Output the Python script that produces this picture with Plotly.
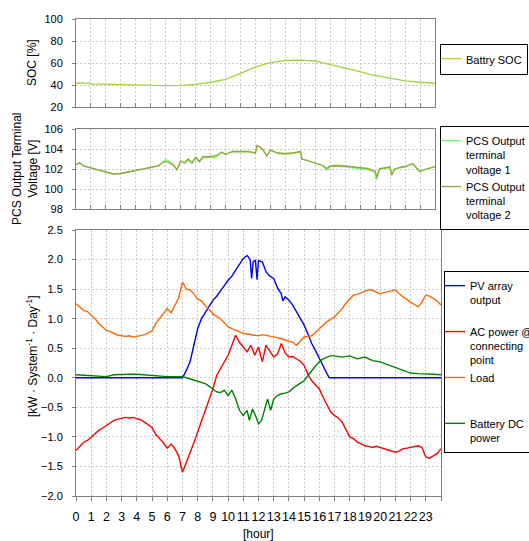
import plotly.graph_objects as go

# ---------------- data ----------------
hour_ticks = [str(h) for h in range(24)]

soc_t = [0, 0.9, 1, 2, 3, 4, 5, 6, 7, 8, 9, 10, 11, 12, 13, 14, 15, 16, 17, 18, 19, 19.9, 20, 20.1, 21, 22, 23, 24]
soc = [41.8, 41.7, 41.0, 40.7, 40.4, 39.9, 39.8, 39.4, 39.7, 40.6, 42.5, 45.2, 50.5, 56.5, 60.3, 62.3, 62.6, 61.8,
       58.5, 55.3, 52.2, 48.6, 49.3, 48.5, 45.9, 43.7, 42.5, 41.6]

volt_t = [0, 0.25, 0.5, 0.75, 1, 1.5, 2, 2.5, 3, 3.5, 4, 4.25, 4.5, 5, 5.5, 5.75, 6, 6.25, 6.5, 6.75, 7, 7.25,
          7.5, 7.75, 8, 8.25, 8.5, 8.75, 9, 9.25, 9.5, 9.75, 10, 10.25, 10.5, 11, 11.5, 12, 12.1, 12.3, 12.5,
          12.75, 13, 13.5, 14, 14.5, 15, 15.1, 15.5, 16, 16.5, 16.75, 17, 17.5, 18, 18.5, 19, 19.5, 20, 20.1,
          20.3, 20.75, 21, 21.1, 21.3, 21.75, 22, 22.5, 22.75, 23, 23.3, 23.6, 24]
volt1 = [102.45, 102.65, 102.3, 102.2, 102.15, 101.95, 101.7, 101.5, 101.55, 101.7, 101.85, 101.95, 102.0, 102.1,
         102.3, 102.65, 102.95, 102.7, 102.45, 101.95, 102.8, 102.55, 102.9, 102.55, 103.1, 102.7, 103.15,
         103.15, 103.2, 103.1, 103.4, 103.65, 103.45, 103.6, 103.75, 103.7, 103.75, 103.6, 104.3, 104.2, 103.9,
         103.3, 103.85, 103.55, 103.5, 103.6, 103.7, 103.0, 102.85, 102.55, 102.3, 101.9, 102.25, 102.3, 102.2,
         102.15, 102.0, 101.95, 101.65, 100.9, 101.95, 102.05, 102.15, 101.35, 101.95, 102.15, 102.2, 102.5,
         102.15, 101.7, 101.9, 102.05, 102.25]
volt2 = [102.4, 102.6, 102.3, 102.2, 102.15, 101.95, 101.7, 101.5, 101.55, 101.7, 101.85, 101.95, 102.0, 102.1,
         102.3, 102.6, 102.75, 102.6, 102.4, 101.9, 102.8, 102.6, 103.0, 102.65, 103.2, 102.75, 103.25, 103.2,
         103.25, 103.3, 103.45, 103.7, 103.45, 103.65, 103.75, 103.75, 103.75, 103.6, 104.35, 104.2, 103.95,
         103.3, 103.9, 103.6, 103.55, 103.6, 103.75, 103.0, 102.85, 102.6, 102.35, 102.05, 102.3, 102.35, 102.3,
         102.2, 102.1, 102.05, 101.75, 101.2, 102.05, 102.1, 102.2, 101.45, 102.0, 102.2, 102.25, 102.55, 102.2,
         101.75, 101.95, 102.1, 102.25]

pv_t = [0, 7.0, 7.25, 7.5, 7.75, 8, 8.25, 8.5, 8.75, 9, 9.25, 9.5, 9.75, 10, 10.25, 10.5, 10.75, 11, 11.25,
        11.45, 11.55, 11.65, 11.8, 11.9, 12.0, 12.25, 12.5, 12.75, 13, 13.25, 13.5, 13.6, 13.75, 14, 14.25,
        14.5, 14.75, 15, 15.25, 15.5, 15.75, 16, 16.25, 16.5, 16.65, 24]
pv = [0.0, 0.0, 0.12, 0.27, 0.55, 0.83, 1.0, 1.11, 1.22, 1.31, 1.38, 1.48, 1.56, 1.65, 1.72, 1.82, 1.93, 2.02,
      2.07, 2.0, 1.68, 1.96, 1.99, 1.66, 1.98, 1.96, 1.79, 1.72, 1.68, 1.52, 1.42, 1.3, 1.37, 1.31, 1.23, 1.11,
      1.0, 0.89, 0.74, 0.58, 0.46, 0.34, 0.2, 0.07, 0.0, 0.0]

q_t = [i * 0.25 for i in range(97)]
ac = [-1.23, -1.15, -1.09, -1.06, -1.0, -0.95, -0.89, -0.85, -0.81, -0.76, -0.72, -0.7, -0.68, -0.67, -0.68,
      -0.67, -0.69, -0.71, -0.75, -0.79, -0.84, -0.96, -1.03, -1.1, -1.19, -1.12, -1.2, -1.32, -1.6, -1.42,
      -1.27, -1.1, -0.92, -0.72, -0.55, -0.37, -0.19, 0.04, 0.15, 0.28, 0.38, 0.55, 0.72, 0.6, 0.52, 0.44, 0.55,
      0.38, 0.52, 0.27, 0.55, 0.44, 0.35, 0.4, 0.58, 0.42, 0.35, 0.36, 0.32, 0.28, 0.21, 0.06, -0.05, -0.12,
      -0.19, -0.33, -0.47, -0.58, -0.64, -0.68, -0.75, -0.88, -1.0, -1.03, -1.09, -1.12, -1.15, -1.16, -1.18,
      -1.16, -1.18, -1.21, -1.23, -1.25, -1.26, -1.24, -1.2, -1.19, -1.18, -1.16, -1.15, -1.18, -1.34, -1.36,
      -1.32, -1.28, -1.2]
load = [1.25, 1.2, 1.14, 1.12, 1.06, 1.0, 0.92, 0.86, 0.8, 0.78, 0.75, 0.72, 0.71, 0.7, 0.71, 0.69, 0.7, 0.71,
        0.73, 0.76, 0.79, 0.92, 1.0, 1.08, 1.17, 1.1, 1.22, 1.35, 1.62, 1.5, 1.49, 1.42, 1.33, 1.3, 1.22, 1.16,
        1.08, 1.04, 1.0, 0.93, 0.86, 0.83, 0.8, 0.77, 0.75, 0.74, 0.73, 0.72, 0.71, 0.73, 0.72, 0.7, 0.69, 0.68,
        0.66, 0.64, 0.62, 0.6, 0.55, 0.63, 0.69, 0.7, 0.71, 0.77, 0.83, 0.9, 0.95, 0.99, 1.03, 1.1, 1.17, 1.26,
        1.33, 1.4, 1.41, 1.44, 1.46, 1.49, 1.48, 1.45, 1.42, 1.44, 1.45, 1.47, 1.49, 1.42, 1.37, 1.32, 1.28,
        1.24, 1.2, 1.28, 1.4, 1.38, 1.34, 1.3, 1.23]

bat_t = [0, 0.5, 1, 1.5, 2, 2.5, 3, 3.5, 4, 4.5, 5, 5.5, 6, 6.5, 7, 7.25, 7.5, 7.75, 8, 8.25, 8.5, 8.75, 9,
         9.25, 9.5, 9.75, 10, 10.25, 10.5, 10.75, 11, 11.25, 11.4, 11.6, 11.8, 12, 12.2, 12.4, 12.6, 12.8, 13,
         13.25, 13.5, 13.75, 14, 14.25, 14.5, 14.75, 15, 15.25, 15.5, 15.75, 16, 16.25, 16.5, 16.75, 17, 17.5,
         18, 18.5, 19, 19.5, 20, 20.5, 21, 21.5, 22, 22.5, 23, 23.5, 24]
bat = [0.05, 0.04, 0.03, 0.03, 0.02, 0.05, 0.06, 0.06, 0.06, 0.05, 0.03, 0.03, 0.02, 0.02, 0.02, 0.0, -0.02,
       -0.03, -0.05, -0.07, -0.1, -0.14, -0.19, -0.24, -0.25, -0.21, -0.3, -0.21, -0.36, -0.55, -0.64, -0.55,
       -0.72, -0.53, -0.64, -0.78, -0.72, -0.55, -0.36, -0.55, -0.36, -0.3, -0.27, -0.26, -0.24, -0.18, -0.13,
       -0.09, -0.05, 0.04, 0.12, 0.2, 0.27, 0.32, 0.35, 0.37, 0.37, 0.35, 0.37, 0.32, 0.35, 0.29, 0.27, 0.22,
       0.18, 0.12, 0.08, 0.07, 0.07, 0.06, 0.05]

# ---------------- figure ----------------
FONT = "Liberation Sans, Arial, sans-serif"
W, H = 529, 541

fig = go.Figure()
fig.add_trace(go.Scatter(x=soc_t, y=soc, mode="lines", name="Battry SOC",
                         line=dict(color="#A8D040", width=1.3), xaxis="x", yaxis="y", legend="legend"))
fig.add_trace(go.Scatter(x=volt_t, y=volt1, mode="lines", name="PCS Output<br>terminal<br>voltage 1",
                         line=dict(color="#66FF66", width=1.3), xaxis="x2", yaxis="y2", legend="legend2"))
fig.add_trace(go.Scatter(x=volt_t, y=volt2, mode="lines", name="PCS Output<br>terminal<br>voltage 2",
                         line=dict(color="#A0A040", width=1.3), xaxis="x2", yaxis="y2", legend="legend2"))
fig.add_trace(go.Scatter(x=pv_t, y=pv, mode="lines", name="PV array<br>output<br> ",
                         line=dict(color="#0000FF", width=1.4), xaxis="x3", yaxis="y3", legend="legend3"))
fig.add_trace(go.Scatter(x=q_t, y=ac, mode="lines", name="AC power @<br>connecting<br>point",
                         line=dict(color="#FF0000", width=1.4), xaxis="x3", yaxis="y3", legend="legend3"))
fig.add_trace(go.Scatter(x=q_t, y=load, mode="lines", name="Load<br> <br> ",
                         line=dict(color="#FF6600", width=1.4), xaxis="x3", yaxis="y3", legend="legend3"))
fig.add_trace(go.Scatter(x=bat_t, y=bat, mode="lines", name="Battery DC<br>power",
                         line=dict(color="#008000", width=1.4), xaxis="x3", yaxis="y3", legend="legend3"))

x_left = 76 / W
grid = dict(showgrid=True, gridcolor="#C8C8C8", griddash="2px,2px", gridwidth=1,
            showline=True, mirror=True, linecolor="#808080", linewidth=1, zeroline=False)

def ydom(top, bottom):
    return [(H - bottom) / H, (H - top) / H]

xcommon = dict(range=[0, 24], tickmode="array", tickvals=list(range(25)), **grid)
fig.update_layout(
    xaxis=dict(domain=[x_left, 435 / W], anchor="y", showticklabels=False, ticks="inside", ticklen=4,
               tickcolor="#808080", **xcommon),
    yaxis=dict(domain=ydom(19, 107), anchor="x", range=[20, 100], dtick=20, tick0=20, ticks="outside",
               ticklen=3, tickcolor="#808080", ticklabelstandoff=7, **grid),
    xaxis2=dict(domain=[x_left, 435 / W], anchor="y2", showticklabels=False, ticks="inside", ticklen=4,
                tickcolor="#808080", **xcommon),
    yaxis2=dict(domain=ydom(129, 209), anchor="x2", range=[98, 106], dtick=2, tick0=98, ticks="outside",
                ticklen=3, tickcolor="#808080", ticklabelstandoff=7, **grid),
    xaxis3=dict(domain=[x_left, 441 / W], anchor="y3", ticktext=hour_ticks + [""], ticks="outside", ticklen=4,
                tickcolor="#808080", ticklabelstandoff=5, tickangle=0, tickfont=dict(size=12.5), **xcommon),
    yaxis3=dict(domain=ydom(230, 496), anchor="x3", range=[-2.0, 2.5], dtick=0.5, tick0=-2.0,
                tickformat=".1f", ticks="outside", ticklen=3, tickcolor="#808080", ticklabelstandoff=7, **grid),
)

leg = dict(xanchor="left", yanchor="top", bordercolor="#000000", borderwidth=1, bgcolor="#FFFFFF",
           font=dict(family=FONT, size=11, color="#000000"), valign="top", tracegroupgap=0,
           indentation=-15)
fig.update_layout(
    legend=dict(x=440 / W, y=(H - 44) / H, **leg),
    legend2=dict(x=440 / W, y=(H - 126) / H, **leg),
    legend3=dict(x=444 / W, y=(H - 271) / H, **leg),
)

ann = dict(xref="paper", yref="paper", showarrow=False, font=dict(family=FONT, size=12, color="#000000"),
           xanchor="center", yanchor="middle")
fig.add_annotation(text="SOC [%]", x=32 / W, y=(H - 63) / H, textangle=-90, **ann)
fig.add_annotation(text="PCS Output Terminal<br>Voltage [V]", x=25 / W, y=(H - 169) / H, textangle=-90, **ann)
fig.add_annotation(text="[kW · System<sup>-1</sup> · Day<sup>-1</sup>]", x=32 / W, y=(H - 356) / H,
                   textangle=-90, **ann)
fig.add_annotation(text="[hour]", x=258 / W, y=(H - 534) / H, **ann)

fig.update_layout(
    width=W, height=H, autosize=False,
    margin=dict(l=0, r=0, t=0, b=0, autoexpand=False),
    paper_bgcolor="#FFFFFF", plot_bgcolor="#FFFFFF",
    font=dict(family=FONT, size=11, color="#000000"),
    showlegend=True,
)

fig.write_html("out.html", config={"displayModeBar": False},
               post_script="document.body.style.margin='0';")
